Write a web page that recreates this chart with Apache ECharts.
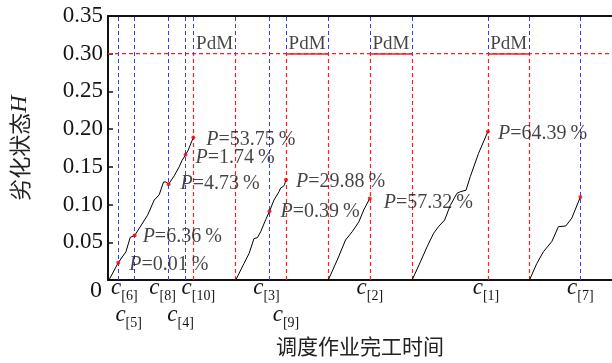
<!DOCTYPE html>
<html><head><meta charset="utf-8">
<script src="https://cdn.jsdelivr.net/npm/echarts@6/dist/echarts.min.js"></script>
<style>html,body{margin:0;padding:0;background:#fff}#c{width:612px;height:363px}</style>
</head><body><div id="c"></div>
<script>
// ---------- data ----------
const jobNames = ['6','5','8','4','10','3','9','2','1','7'];
const jobTimes = [10.3,26.7,60.7,77.7,85.5,161.8,178.3,262.3,380.7,473.3];
const jobH     = [0.023,0.059,0.127,0.166,0.189,0.091,0.133,0.108,0.197,0.110];
const jobP     = ['0.01','6.36','4.73','1.74','53.75','0.39','29.88','57.32','64.39',''];
const pdmStart = [85.5,178.3,262.3,380.7];
const pdmEnd   = [128,220.7,304.7,422.3];
const threshold = 0.30;
const xMax = 505;
const yMin = 0, yMax = 0.35, yInterval = 0.05;
const seg1 = [[1,0],[10.3,0.023],[18,0.0375],[22.3,0.0566],[26.7,0.059],[31.3,0.0685],[39.7,0.086],[46.3,0.106],[51.3,0.113],[55.7,0.130],[58,0.130],[60.7,0.127],[66.3,0.138],[71.3,0.150],[74,0.158],[77.7,0.166],[80.3,0.172],[85.5,0.189]];
const seg2 = [[128,0],[136.3,0.022],[141.3,0.035],[146.3,0.055],[149.7,0.056],[153,0.064],[158,0.080],[161.8,0.091],[166.3,0.106],[171.3,0.117],[173,0.122],[175.7,0.124],[177,0.127],[178.3,0.133]];
const seg3 = [[220.7,0],[229.7,0.0265],[238,0.053],[244.7,0.064],[251.3,0.077],[256.3,0.093],[262.3,0.108]];
const seg4 = [[304.7,0],[313,0.024],[319.7,0.044],[326.3,0.062],[331.3,0.071],[337.3,0.0795],[343,0.099],[349.7,0.115],[353,0.117],[358.7,0.119],[363,0.137],[371.3,0.168],[380.7,0.197]];
const seg5 = [[422.3,0],[429.7,0.022],[436.3,0.0375],[444.7,0.051],[451.3,0.0707],[458.7,0.0716],[464.7,0.082],[473.3,0.110]];
const segments = [seg1,seg2,seg3,seg4,seg5];

// ---------- style / layout ----------
const SERIF = 'Liberation Serif';
const CJK = 'Noto Sans CJK SC';
const TXT = '#151515';
const lowerRow = ['5','4','9'];
const labelShift = {'6':6,'5':-6,'8':-6,'4':-5,'10':5,'3':-3,'9':0,'2':0,'1':-2,'7':0};
const pLabelOffset = {'6':[9,2],'5':[6,1],'8':[10,0],'4':[8,3],'10':[11,2],'3':[9,0],'9':[8,2],'2':[12,4],'1':[8,2]};
const solidPdm = [false,true,true,true];
const RED = '#ff1f1f';
const BLUE = '#3a3aff';

const rich = {
  z: {fontFamily: SERIF, fontSize: 24, color: TXT, padding: [6,24,0,0]},
  g: {fontSize: 2, lineHeight: 27}
};
jobNames.forEach((n,i)=>{
  const sh = labelShift[n];
  rich['c'+i] = {fontFamily: SERIF, fontStyle:'italic', fontSize: 23, color: TXT, padding:[0,0,0,Math.max(0,2*sh)]};
  rich['s'+i] = {fontFamily: SERIF, fontSize: 14, color: TXT, padding:[16,Math.max(0,-2*sh),0,0]};
});
function xLabel(v){
  if (Math.abs(v) < 1e-6) return '{z|0}';
  const i = jobTimes.findIndex(t=>Math.abs(t-v)<1e-3);
  if (i < 0) return '';
  const n = jobNames[i];
  const s = `{c${i}|c}{s${i}|[${n}]}`;
  return lowerRow.includes(n) ? '{g| }\n' + s : s;
}

const dashBlue = {color:BLUE, type:[4,3], width:1};
const dashRed = {color:RED, type:[4,3], width:1.2};

const vBlue = jobTimes.concat(pdmEnd).map(t=>({xAxis:t, lineStyle:dashBlue}));
const vRed = pdmStart.concat(pdmEnd).map(t=>[{coord:[t,0], lineStyle:dashRed},{coord:[t,threshold], lineStyle:dashRed}]);
const hSolid = [];
pdmStart.forEach((s,i)=>{
  if (solidPdm[i]) hSolid.push([{coord:[s,threshold], lineStyle:{color:RED, type:'solid', width:1.5}},{coord:[pdmEnd[i],threshold]}]);
});

const dots = jobTimes.map((t,i)=>{
  const n = jobNames[i];
  const o = {value:[t, jobH[i]]};
  if (jobP[i]) {
    o.label = {show:true, position:'right', distance:0, offset: pLabelOffset[n],
      formatter: `{pi|P}{pt|=${jobP[i]}\u2009%}`};
  }
  return o;
});

const chart = echarts.init(document.getElementById('c'), null, {renderer:'canvas'});
chart.setOption({
  animation:false,
  backgroundColor:'#fff',
  textStyle:{fontFamily:SERIF},
  grid:{left:107, top:16, right:0, bottom:83, containLabel:false},
  xAxis:[{
    type:'value', min:0, max:xMax, position:'bottom',
    splitLine:{show:false},
    axisTick:{show:false},
    axisLine:{lineStyle:{color:'#111', width:2}},
    axisLabel:{customValues:[0].concat(jobTimes), formatter:xLabel, rich:rich, margin:-7, hideOverlap:false, color:TXT, fontFamily:SERIF},
    name:'调度作业完工时间', nameLocation:'middle', nameGap:56,
    nameTextStyle:{fontFamily:CJK, fontSize:21, color:'#222'}
  },{
    type:'value', min:0, max:xMax, position:'top',
    splitLine:{show:false}, axisTick:{show:false}, axisLabel:{show:false},
    axisLine:{lineStyle:{color:'#111', width:2}}
  }],
  yAxis:{
    type:'value', min:yMin, max:yMax, interval:yInterval,
    splitLine:{show:false},
    axisLine:{show:true, lineStyle:{color:'#111', width:2}},
    axisTick:{show:true, inside:true, length:5, lineStyle:{color:'#111', width:1.5}},
    axisLabel:{fontFamily:SERIF, fontSize:23, color:TXT, margin:5,
      formatter:v=> v===0 ? '' : v.toFixed(2)},
    name:'{a|劣化状态}{h|H}', nameLocation:'middle', nameGap:76,
    nameTextStyle:{rich:{a:{fontFamily:CJK, fontSize:22, color:'#222'}, h:{fontFamily:SERIF, fontStyle:'italic', fontSize:24, color:'#222'}}}
  },
  series:[
    {type:'line', data:[], silent:true, z:1, color:BLUE,
      markLine:{silent:true, symbol:['none','none'], label:{show:false}, lineStyle:dashBlue, data:vBlue, animation:false}},
    {type:'line', data:[[0,threshold],[xMax,threshold]], silent:true, z:2, showSymbol:false, color:RED,
      lineStyle:{color:RED, type:[4,3], width:1.2},
      markLine:{silent:true, symbol:['none','none'], label:{show:false}, lineStyle:dashRed, data:vRed.concat(hSolid), animation:false}},
    ...segments.map(seg=>({type:'line', data:seg, showSymbol:false, silent:true, z:5,
      lineStyle:{color:'#000', width:1}})),
    {type:'scatter', data:dots, symbolSize:4, z:6, silent:true,
      itemStyle:{color:'#ff0000'},
      label:{color:TXT, rich:{pi:{fontFamily:SERIF, fontStyle:'italic', fontSize:20, color:TXT}, pt:{fontFamily:SERIF, fontSize:20, color:TXT}}}},
    {type:'scatter', data:pdmStart.map((s,i)=>[(s+pdmEnd[i])/2, threshold]), symbolSize:0, silent:true, z:6,
      label:{show:true, position:'top', distance:0, formatter:'PdM', fontFamily:SERIF, fontSize:19, color:TXT}}
  ]
});
</script></body></html>
